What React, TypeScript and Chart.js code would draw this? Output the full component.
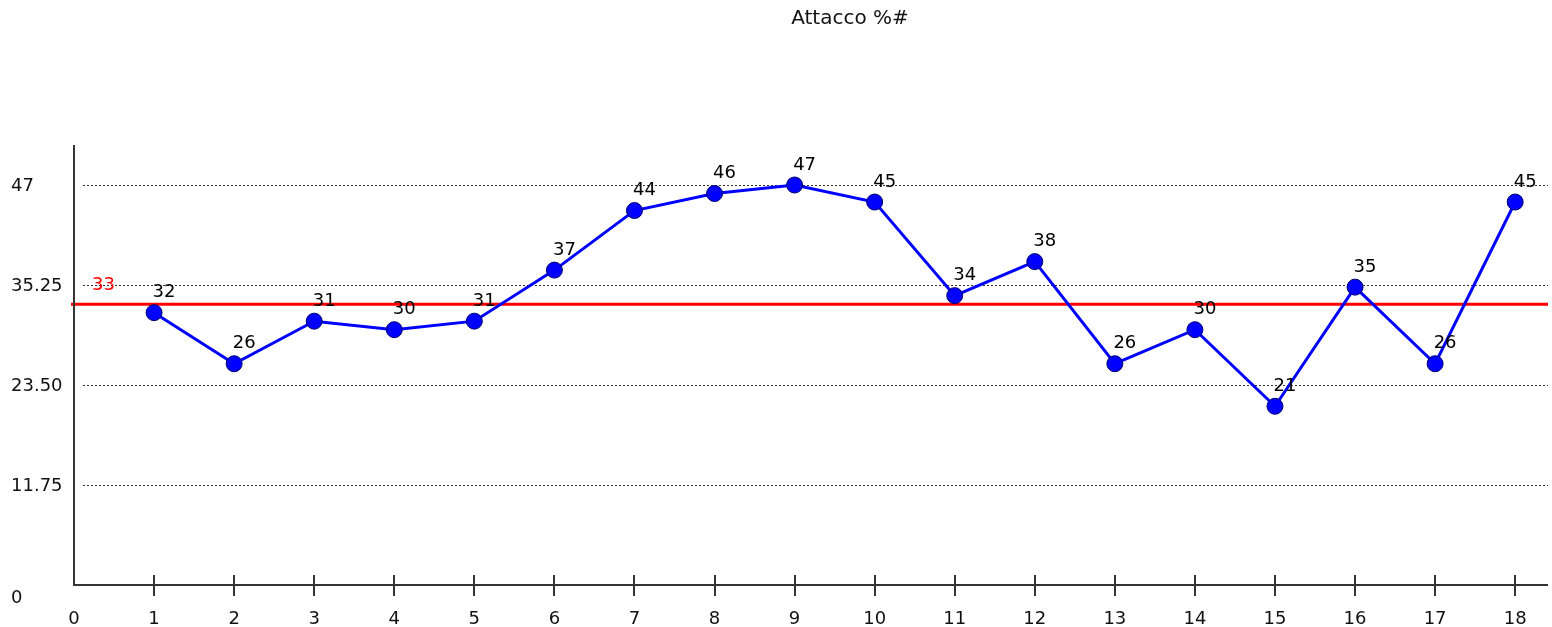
import React, { useEffect, useRef } from "react";
import { Chart, registerables } from "chart.js";

Chart.register(...registerables);

const titleText = "Attacco %#";
const categories = [1, 2, 3, 4, 5, 6, 7, 8, 9, 10, 11, 12, 13, 14, 15, 16, 17, 18];
const seriesValues = [32, 26, 31, 30, 31, 37, 44, 46, 47, 45, 34, 38, 26, 30, 21, 35, 26, 45];
const xTicks = [0, 1, 2, 3, 4, 5, 6, 7, 8, 9, 10, 11, 12, 13, 14, 15, 16, 17, 18];
const yTicks = [0, 11.75, 23.5, 35.25, 47];
const yTickLabels = ["0", "11.75", "23.50", "35.25", "47"];
const averageValue = 33;
const averageLabel = "33";

const FONT = "18px 'DejaVu Sans', sans-serif";

const decorPlugin = {
  id: "decor",
  beforeDatasetsDraw(chart: any) {
    const { ctx, chartArea, scales } = chart;
    const xs = scales.x;
    const ys = scales.y;
    ctx.save();
    // dotted grid lines
    ctx.strokeStyle = "#333333";
    ctx.lineWidth = 1;
    ctx.setLineDash([2, 2]);
    yTicks.forEach((v) => {
      if (v === 0) return;
      const y = Math.round(ys.getPixelForValue(v)) + 0.5;
      ctx.beginPath();
      ctx.moveTo(chartArea.left + 9, y);
      ctx.lineTo(chartArea.right, y);
      ctx.stroke();
    });
    ctx.setLineDash([]);
    // red average line
    const ay = ys.getPixelForValue(averageValue);
    ctx.strokeStyle = "#ff0000";
    ctx.lineWidth = 3;
    ctx.beginPath();
    ctx.moveTo(chartArea.left - 3, ay);
    ctx.lineTo(chartArea.right, ay);
    ctx.stroke();
    // axes
    ctx.strokeStyle = "#333333";
    ctx.lineWidth = 2;
    const x0 = xs.getPixelForValue(0);
    const y0 = ys.getPixelForValue(0);
    ctx.beginPath();
    ctx.moveTo(x0, chartArea.top);
    ctx.lineTo(x0, y0);
    ctx.lineTo(chartArea.right, y0);
    ctx.stroke();
    // x ticks crossing axis
    xTicks.forEach((v) => {
      if (v === 0) return;
      const x = Math.round(xs.getPixelForValue(v));
      ctx.beginPath();
      ctx.moveTo(x, y0 - 10);
      ctx.lineTo(x, y0 + 11);
      ctx.stroke();
    });
    // x labels
    ctx.fillStyle = "#111111";
    ctx.font = FONT;
    ctx.textAlign = "center";
    ctx.textBaseline = "middle";
    xTicks.forEach((v) => {
      ctx.fillText(String(v), xs.getPixelForValue(v), y0 + 34);
    });
    // y labels
    ctx.textAlign = "left";
    yTicks.forEach((v, i) => {
      const y = v === 0 ? y0 + 13 : ys.getPixelForValue(v) + 1;
      ctx.fillText(yTickLabels[i], 11, y);
    });
    // title
    ctx.font = "20px 'DejaVu Sans', sans-serif";
    ctx.textAlign = "center";
    ctx.fillText(titleText, 850, 19);
    ctx.restore();
  },
  afterDatasetsDraw(chart: any) {
    const { ctx, scales } = chart;
    const xs = scales.x;
    const ys = scales.y;
    ctx.save();
    ctx.font = FONT;
    ctx.textBaseline = "middle";
    ctx.textAlign = "center";
    ctx.fillStyle = "#000000";
    seriesValues.forEach((v, i) => {
      const x = xs.getPixelForValue(categories[i]);
      const y = ys.getPixelForValue(v);
      ctx.fillText(String(v), x + 10, y - 20);
    });
    ctx.fillStyle = "#ff0000";
    ctx.textAlign = "left";
    ctx.fillText(averageLabel, 92, ys.getPixelForValue(averageValue) - 19);
    ctx.restore();
  },
};

export default function App() {
  const canvasRef = useRef<HTMLCanvasElement | null>(null);

  useEffect(() => {
    document.body.style.margin = "0";
    const canvas = canvasRef.current;
    if (!canvas) return;
    const chart = new Chart(canvas, {
      type: "line",
      data: {
        datasets: [
          {
            data: categories.map((c, i) => ({ x: c, y: seriesValues[i] })),
            borderColor: "#0000ff",
            borderWidth: 3,
            backgroundColor: "#0000ff",
            pointBackgroundColor: "#0000ff",
            pointBorderColor: "#00006a",
            pointBorderWidth: 1,
            pointRadius: 8,
            pointStyle: "circle",
            tension: 0,
            fill: false,
          },
        ],
      },
      options: {
        animation: false,
        responsive: false,
        devicePixelRatio: 1,
        events: [],
        layout: { autoPadding: false, padding: { left: 74, right: 4, top: 145, bottom: 42 } },
        plugins: {
          legend: { display: false },
          title: { display: false },
          tooltip: { enabled: false },
        },
        scales: {
          x: { type: "linear", min: 0, max: 18.41, display: false },
          y: { type: "linear", min: 0, max: 51.7, display: false },
        },
      },
      plugins: [decorPlugin],
    });
    return () => chart.destroy();
  }, []);

  return (
    <div style={{ position: "absolute", left: 0, top: 0, width: 1552, height: 627, background: "#ffffff" }}>
      <canvas ref={canvasRef} width={1552} height={627} />
    </div>
  );
}
